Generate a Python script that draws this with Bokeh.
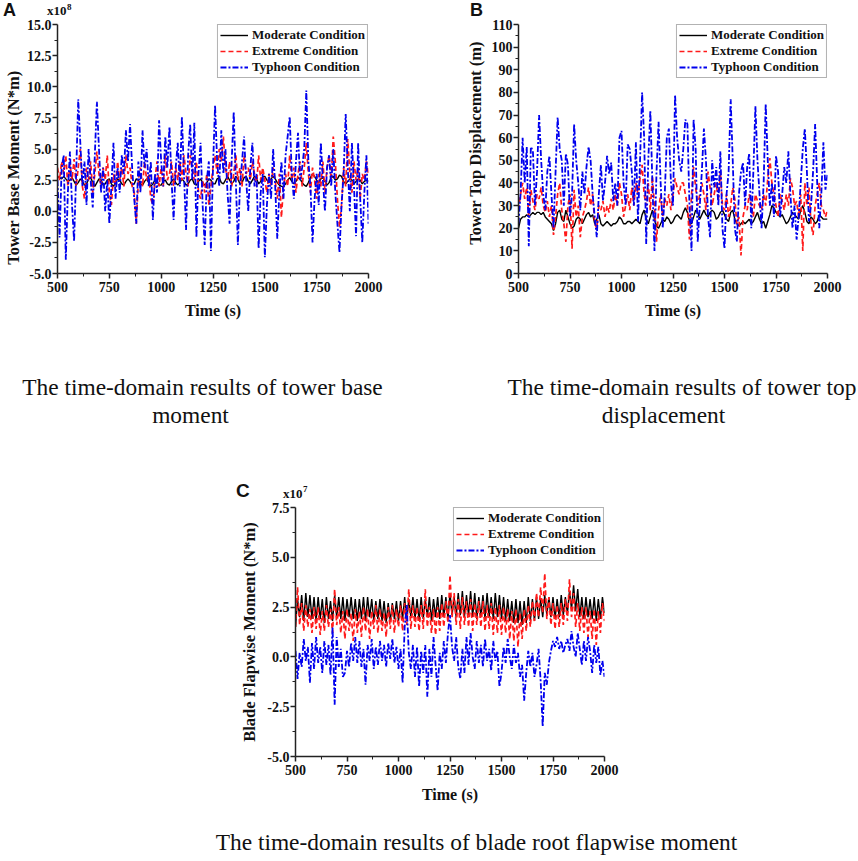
from bokeh.plotting import figure
from bokeh.models import Range1d, FixedTicker, PrintfTickFormatter, Label, Legend, LegendItem, Spacer, Div
from bokeh.layouts import row, column
from bokeh.embed import file_html
from bokeh.resources import INLINE

# ---------------- data ----------------
time_s = list(range(500, 2001, 10))
x_ticks = [500, 750, 1000, 1250, 1500, 1750, 2000]
series_names = ["Moderate Condition", "Extreme Condition", "Typhoon Condition"]

# Panel A: tower base moment (x1e8 N*m)
moderate_a = [2.8, 2.7, 2.6, 2.8, 2.6, 2.4, 2.5, 2.7, 2.4, 2.1,
              2.3, 2.6, 2.4, 2.1, 2.2, 2.6, 2.7, 2.3, 2.0, 2.3,
              2.6, 2.5, 2.1, 2.2, 2.5, 2.6, 2.2, 2.0, 2.3, 2.6,
              2.5, 2.2, 2.1, 2.4, 2.6, 2.4, 2.1, 2.2, 2.6, 2.5,
              2.2, 2.1, 2.4, 2.6, 2.3, 2.0, 2.2, 2.5, 2.4, 2.1,
              2.1, 2.4, 2.5, 2.2, 2.1, 2.4, 2.6, 2.3, 2.1, 2.3,
              2.6, 2.4, 2.1, 2.2, 2.5, 2.6, 2.2, 2.1, 2.4, 2.6,
              2.3, 2.1, 2.3, 2.6, 2.5, 2.2, 2.2, 2.6, 2.7, 2.3,
              2.2, 2.5, 2.8, 2.5, 2.2, 2.4, 2.8, 2.6, 2.2, 2.3,
              2.7, 2.8, 2.4, 2.2, 2.5, 2.8, 2.6, 2.2, 2.4, 2.8,
              2.8, 2.5, 2.3, 2.6, 2.8, 2.6, 2.3, 2.1, 2.0, 2.0,
              2.2, 2.5, 2.7, 2.4, 2.2, 2.4, 2.7, 2.6, 2.3, 2.1,
              2.0, 2.3, 2.7, 3.0, 2.8, 2.5, 2.3, 2.6, 2.7, 2.4,
              2.1, 2.3, 2.7, 2.8, 2.5, 2.6, 2.9, 2.8, 2.4, 2.2,
              2.4, 2.6, 2.5, 2.2, 2.4, 2.6, 2.5, 2.2, 2.4, 2.5,
              2.4]
extreme_a = [3.5, 2.5, 4.0, 3.0, 4.5, 2.0, 3.8, 2.5, 4.2, 2.0,
             3.5, 5.0, 2.0, 1.0, 3.5, 2.5, 4.0, 1.5, 3.0, 4.8,
             3.0, 2.0, 3.5, 2.5, 4.5, 1.5, 0.5, 3.0, 2.0, 4.0,
             2.5, 3.5, 2.0, 4.5, 3.0, 3.5, 2.0, 1.5, -1.0, 2.5,
             3.5, 2.0, 4.0, 2.5, 3.0, 1.0, 0.5, 2.5, 4.0, 2.0,
             3.5, 2.0, 4.5, 2.5, 3.0, 4.0, 2.0, 3.5, 2.5, 4.0,
             2.5, 4.5, 3.0, 2.0, 4.5, 3.5, 2.5, 4.0, 1.5, 1.0,
             2.5, 1.5, 3.0, 0.5, 2.0, 3.5, 4.5, 3.0, 5.0, 4.0,
             6.0, 3.5, 2.5, 4.0, 2.0, 3.0, 4.5, 2.5, 3.5, 2.0,
             4.5, 3.0, 3.5, 2.5, 4.0, 3.0, 2.0, 4.5, 2.5, 3.5,
             2.5, 1.5, 3.0, 2.0, 3.5, 2.5, 1.0, 3.0, -0.5, 2.0,
             3.0, 2.0, 4.5, 2.5, 3.5, 1.5, 3.0, 4.0, 2.0, 3.5,
             5.5, 3.0, 1.5, 3.5, 2.5, 1.0, 3.0, 2.0, 4.0, 1.5,
             3.5, 4.5, 2.5, 6.0, 4.0, 1.0, -1.3, 0.5, 3.5, 2.0,
             5.8, 3.0, 1.5, 4.0, 2.5, 3.5, 1.0, 3.0, 2.5, 4.0,
             3.0]
typhoon_a = [2.5, -2.1, 3.5, 4.5, -3.9, 1.5, 4.8, 0.5, -2.4, 3.0,
             9.0, 5.5, 2.0, 4.0, 0.5, 5.0, 2.5, 0.3, 4.5, 8.8,
             5.0, 1.5, 3.5, 0.0, 2.5, -1.0, 2.0, 5.5, 1.0, 3.5,
             1.5, 4.5, 3.0, 6.5, 4.0, 7.0, 3.5, 1.0, -1.0, 4.0,
             1.5, 6.5, 3.5, 5.0, 2.0, 4.0, -0.7, 3.0, 1.5, 7.3,
             4.0, 2.0, 6.0, 3.5, 6.8, 2.5, -0.7, 3.5, 5.5, 2.0,
             7.6, 3.0, -1.5, 4.5, 7.0, 2.5, 7.1, -2.1, 3.0, 5.5,
             0.5, -2.7, 2.5, 4.0, -3.2, 3.5, 8.5, 4.0, 2.0, 6.5,
             3.0, 5.0, 1.5, -1.0, 4.0, 8.0, 2.5, -2.7, 2.0, 4.0,
             6.0, 2.5, 0.0, 3.5, 5.5, 2.0, 3.0, -3.0, 1.5, 3.0,
             -3.7, 0.5, 3.0, 1.0, 5.0, 2.0, -2.2, 1.5, 4.0, 1.0,
             4.5, 6.0, 7.6, 3.0, 1.0, 4.0, 6.3, 2.5, 3.5, 5.0,
             9.7, 4.0, 2.0, -2.5, 1.0, 3.0, 0.5, 5.5, 2.5, 0.0,
             3.5, 4.5, 2.0, 5.0, 1.5, -1.0, -3.3, 0.5, 3.0, 7.8,
             3.5, 0.0, 5.5, 2.0, -2.0, 5.5, 1.0, -2.5, 1.5, 4.5,
             -1.0]

# Panel B: tower top displacement (m)
moderate_b = [20, 24, 25, 25, 26, 25, 26, 27, 26, 27,
              27, 26, 27, 25, 24, 23, 22, 19, 22, 27,
              28, 24, 23, 28, 25, 22, 20, 21, 24, 25,
              24, 22, 24, 26, 27, 25, 26, 22, 24, 26,
              22, 21, 22, 23, 22, 21, 22, 22, 23, 25,
              24, 22, 22, 23, 23, 22, 23, 24, 23, 22,
              26, 28, 24, 22, 25, 28, 24, 21, 20, 22,
              24, 23, 25, 24, 22, 23, 25, 26, 25, 24,
              27, 29, 27, 23, 22, 25, 28, 27, 24, 26,
              28, 26, 25, 27, 28, 27, 24, 25, 27, 28,
              26, 24, 23, 27, 28, 24, 22, 21, 22, 23,
              22, 23, 24, 22, 23, 25, 27, 24, 22, 23,
              20, 23, 26, 30, 29, 27, 26, 25, 26, 24,
              22, 23, 25, 27, 26, 25, 24, 28, 30, 27,
              23, 22, 25, 24, 22, 23, 26, 25, 24, 24,
              24]
extreme_b = [28, 35, 40, 33, 38, 25, 37, 32, 28, 35,
             33, 38, 30, 27, 32, 25, 30, 17, 25, 35,
             40, 28, 22, 14, 30, 35, 11, 37, 25, 30,
             16, 25, 28, 32, 38, 30, 35, 22, 20, 30,
             28, 32, 25, 30, 27, 33, 28, 35, 30, 40,
             35, 25, 30, 35, 28, 38, 30, 40, 35, 42,
             48, 35, 30, 40, 28, 43, 30, 14, 28, 35,
             25, 33, 30, 35, 28, 35, 42, 38, 35, 40,
             40, 35, 30, 15, 35, 47, 38, 30, 35, 40,
             35, 28, 45, 38, 30, 35, 40, 32, 45, 30,
             28, 35, 25, 30, 38, 33, 22, 25, 8, 25,
             30, 28, 35, 30, 25, 35, 32, 30, 28, 35,
             30, 42, 51, 40, 35, 30, 25, 35, 32, 28,
             35, 30, 42, 38, 30, 32, 25, 35, 10, 40,
             30, 38, 22, 17, 30, 35, 40, 30, 28, 25,
             28]
typhoon_b = [22, 35, 60, 40, 56, 12, 56, 54, 30, 45,
             70, 50, 35, 28, 45, 52, 35, 20, 45, 69,
             55, 50, 30, 53, 48, 25, 35, 66, 50, 40,
             28, 45, 35, 47, 56, 50, 35, 25, 16, 35,
             48, 32, 40, 52, 44, 49, 32, 40, 30, 60,
             63, 40, 30, 57, 55, 45, 30, 58, 23, 50,
             80, 60, 13, 50, 72, 40, 10, 45, 67, 40,
             20, 35, 60, 64, 40, 30, 79, 60, 50, 45,
             55, 68, 66, 30, 10, 68, 55, 14, 30, 45,
             64, 50, 25, 16, 50, 38, 47, 30, 54, 20,
             11, 35, 45, 77, 50, 20, 14, 35, 45, 49,
             30, 47, 53, 20, 45, 74, 50, 35, 20, 40,
             75, 50, 30, 40, 25, 52, 45, 25, 35, 47,
             40, 54, 35, 20, 30, 15, 25, 40, 55, 64,
             45, 23, 30, 45, 66, 40, 20, 35, 58, 37,
             44]

# Panel C: blade root flapwise moment (x1e7 N*m)
moderate_c = [1.5, 2.9, 2.0, 3.1, 1.8, 3.2, 2.0, 3.1, 1.9, 3.0,
              1.8, 3.0, 1.9, 2.9, 1.7, 3.0, 1.9, 2.8, 1.8, 3.1,
              2.0, 3.0, 1.9, 3.0, 1.8, 2.9, 2.0, 3.0, 1.9, 2.9,
              1.8, 2.9, 1.9, 3.0, 1.8, 3.0, 2.0, 2.9, 1.8, 2.8,
              1.9, 2.9, 1.8, 2.8, 1.7, 2.7, 1.8, 2.7, 1.9, 2.8,
              1.8, 2.8, 1.9, 3.0, 1.8, 2.9, 2.0, 3.0, 1.9, 2.9,
              1.8, 3.0, 1.9, 2.9, 2.0, 3.0, 1.8, 2.9, 2.0, 3.0,
              1.9, 3.1, 2.0, 3.0, 1.9, 3.2, 2.1, 3.0, 2.0, 3.2,
              2.1, 3.3, 2.0, 3.1, 2.1, 3.3, 2.0, 3.2, 1.9, 3.0,
              2.0, 3.1, 1.9, 3.2, 2.0, 3.0, 1.9, 3.2, 2.0, 3.1,
              1.9, 3.0, 1.8, 2.9, 1.8, 2.8, 1.7, 2.9, 1.7, 2.8,
              1.6, 2.8, 1.7, 3.0, 1.8, 2.9, 1.8, 3.0, 1.9, 2.9,
              2.0, 3.1, 2.1, 3.0, 2.0, 3.0, 1.9, 2.9, 2.0, 3.1,
              2.1, 3.0, 2.2, 3.3, 2.4, 3.6, 2.3, 3.4, 2.0, 3.0,
              1.9, 3.0, 2.0, 2.9, 1.9, 3.0, 1.8, 2.9, 1.9, 3.0,
              2.2]
extreme_c = [1.5, 3.5, 1.6, 2.7, 1.3, 2.6, 1.5, 2.4, 1.2, 2.5,
             1.4, 2.5, 1.1, 2.3, 1.3, 2.6, 1.5, 2.4, 1.2, 3.4,
             1.6, 2.5, 1.2, 2.3, 0.9, 2.4, 1.3, 2.2, 0.8, 2.4,
             1.2, 2.3, 1.0, 2.5, 1.3, 2.4, 0.9, 2.3, 1.4, 2.6,
             1.2, 2.4, 1.3, 2.2, 1.0, 2.5, 1.4, 2.6, 1.2, 2.4,
             1.5, 2.6, 1.3, 2.7, 1.6, 3.4, 1.4, 2.6, 1.5, 2.5,
             1.3, 2.6, 1.4, 3.4, 1.5, 2.5, 1.2, 2.4, 1.1, 2.5,
             1.3, 2.7, 1.5, 2.8, 1.7, 4.1, 2.0, 3.2, 1.6, 2.9,
             1.4, 3.0, 1.6, 2.8, 1.5, 2.9, 1.3, 2.7, 1.6, 2.8,
             1.5, 2.8, 1.3, 2.6, 1.4, 2.7, 1.1, 2.5, 1.2, 2.6,
             1.1, 2.5, 1.2, 2.4, 0.9, 2.3, 0.8, 2.4, 0.5, 2.2,
             0.9, 2.4, 1.3, 2.6, 1.5, 2.8, 1.8, 3.2, 2.0, 3.5,
             2.2, 4.2, 1.9, 3.0, 1.6, 2.7, 1.4, 2.6, 1.5, 2.7,
             1.6, 2.9, 1.8, 3.9, 2.0, 3.2, 1.5, 2.7, 1.3, 2.5,
             1.2, 2.5, 1.0, 2.3, 0.9, 2.4, 0.6, 2.3, 1.2, 2.7,
             1.8]
typhoon_c = [0.3, -1.1, 0.2, -0.5, 0.9, -0.2, 0.5, -1.3, 0.7, -0.6,
             1.0, -0.3, 0.5, -0.8, 0.8, -0.4, 0.6, -0.9, 1.5, -2.4,
             1.0, -0.5, 0.4, -1.0, -0.8, 0.3, -0.5, 0.7, -0.2, 1.0,
             -0.3, 0.8, -0.5, 0.4, -1.4, 0.6, -0.2, 0.9, -0.6, 0.5,
             -0.4, 0.8, -0.2, 0.6, -0.5, 0.7, -0.1, 0.9, -0.3, 0.5,
             -0.6, 0.4, -1.3, 1.5, 2.6, 0.2, -0.6, 0.6, -1.0, 0.5,
             -1.5, 0.3, -0.8, 0.6, -2.0, 0.4, -1.0, 1.0, -0.4, -1.7,
             0.2, -0.6, 0.8, -0.3, 1.2, 2.1, 0.5, -0.2, 1.0, -0.5,
             -1.1, 0.4, -0.8, 1.0, -0.4, 1.2, 0.0, -0.6, 0.8, -0.3,
             0.6, -0.5, 0.9, -0.2, 0.4, -0.7, 0.8, -0.2, 0.3, -1.5,
             -0.8, 0.5, -0.3, 0.9, 0.0, -0.6, 0.6, -0.3, 0.2, -1.0,
             -0.4, -2.2, -0.8, 0.3, -0.5, 0.2, -1.0, -0.4, 0.4, -1.2,
             -3.5, -0.8, -1.4, -0.3, 0.3, 0.8, 0.5, 1.0, 0.4, 0.8,
             0.2, 0.6, 0.9, 0.3, 1.3, 0.5, 0.0, 1.2, 0.4, -0.4,
             0.8, -0.2, 1.0, 0.3, -0.8, 0.6, -0.3, 0.5, -0.9, -0.2,
             -1.0]

# ---------------- styling ----------------
SERIF = "Liberation Serif"
SANS = "Liberation Sans"
INK = "#111111"
COLORS = ["#000000", "#ff1a1a", "#0000ee"]
DASHES = ["solid", "5 3", "6 2 2 2"]
WIDTHS = [1.4, 1.7, 1.8]
EM = "\u2003"
NB = "\u00a0"
METRICS = {SANS: (0.905, 0.212), SERIF: (0.891, 0.216)}
LINE_H = 0.8


def add_text(f, x, y, text, size, font=SERIF, style="bold", align="center",
             base="middle", angle=0.0):
    f.add_layout(Label(x=x, y=y, text=text, text_font=font, text_font_style=style,
                       text_font_size=size, text_align=align, text_baseline=base,
                       angle=angle, text_color=INK))


def text_fig(w, h):
    f = figure(width=w, height=h, x_range=Range1d(0, w), y_range=Range1d(h, 0),
               min_border=0, x_axis_type=None, y_axis_type=None,
               output_backend="svg", toolbar_location=None, tools="")
    f.outline_line_color = None
    f.title.visible = False
    f.background_fill_color = "white"
    f.border_fill_color = "white"
    return f


def header_div(w, h, items):
    # items: (left px, baseline px, text, family, size px, weight)
    spans = []
    for left, baseline, text, fam, size, weight in items:
        asc, desc = METRICS[fam]
        top = baseline - ((LINE_H - (asc + desc)) / 2 + asc) * size
        spans.append(
            f'<span style="position:absolute;left:{left}px;top:{top:.2f}px;'
            f'font-family:\'{fam}\';font-size:{size}px;font-weight:{weight};'
            f'line-height:{LINE_H};white-space:nowrap;color:{INK};">{text}</span>')
    html = (f'<div style="position:relative;width:{w}px;height:{h}px;margin:0;padding:0;">'
            + "".join(spans) + "</div>")
    return Div(text=html, width=w, height=h, margin=0)


def plot_fig(frame_w, borders, y_lo, y_hi, y_ticks, y_fmt, data, ylabel,
             ylabel_standoff, xlabel_standoff=7):
    left, right, top, bottom = borders
    p = figure(frame_width=frame_w, frame_height=249,
               min_border_left=left, min_border_right=right,
               min_border_top=top, min_border_bottom=bottom,
               x_range=Range1d(500, 2000), y_range=Range1d(y_lo, y_hi),
               output_backend="svg", toolbar_location=None, tools="")
    p.grid.visible = False
    p.outline_line_color = None
    p.background_fill_color = "white"
    p.title.visible = False

    minor_x = [(a + b) / 2 for a, b in zip(x_ticks[:-1], x_ticks[1:])]
    minor_y = [(a + b) / 2 for a, b in zip(y_ticks[:-1], y_ticks[1:])]
    p.xaxis.ticker = FixedTicker(ticks=x_ticks, minor_ticks=minor_x)
    p.yaxis.ticker = FixedTicker(ticks=y_ticks, minor_ticks=minor_y)
    p.yaxis.formatter = PrintfTickFormatter(format=y_fmt)
    p.xaxis.formatter = PrintfTickFormatter(format="%d")
    for ax in (p.xaxis, p.yaxis):
        ax.axis_line_width = 1.5
        ax.axis_line_color = "#222222"
        ax.major_tick_line_width = 1.5
        ax.major_tick_line_color = "#222222"
        ax.minor_tick_line_color = "#222222"
        ax.minor_tick_line_width = 1
        ax.major_tick_out = 5
        ax.major_tick_in = 0
        ax.minor_tick_out = 3
        ax.minor_tick_in = 0
        ax.major_label_text_font = SERIF
        ax.major_label_text_font_style = "bold"
        ax.major_label_text_font_size = "14px"
        ax.major_label_text_color = INK
        ax.axis_label_text_font = SERIF
        ax.axis_label_text_font_style = "bold"
        ax.axis_label_text_color = INK
    p.xaxis.major_label_standoff = 3
    p.yaxis.major_label_standoff = 1
    p.xaxis.axis_label = "Time (s)"
    p.xaxis.axis_label_text_font_size = "16px"
    p.xaxis.axis_label_standoff = xlabel_standoff
    p.yaxis.axis_label = ylabel
    p.yaxis.axis_label_text_font_size = "16.5px"
    p.yaxis.axis_label_standoff = ylabel_standoff

    renderers = []
    for vals, c, d, w in zip(data, COLORS, DASHES, WIDTHS):
        renderers.append(p.line(time_s, vals, line_color=c, line_dash=d, line_width=w))

    legend = Legend(items=[LegendItem(label=n, renderers=[r]) for n, r in zip(series_names, renderers)],
                    location="top_right", margin=0, padding=2, spacing=0,
                    glyph_height=16, glyph_width=28, label_height=16, label_standoff=4,
                    label_text_font=SERIF, label_text_font_style="bold",
                    label_text_font_size="13px", label_text_color=INK,
                    border_line_color="#666666", border_line_width=1,
                    background_fill_color="white", background_fill_alpha=1)
    p.add_layout(legend)
    return p


# ---- header above A and B (page y 0..16) ----
headAB = header_div(858, 16, [
    (3, 16.4, "A", SANS, 18, "bold"),
    (470, 16.4, "B", SANS, 18, "bold"),
    (47, 16, "x10", SERIF, 13, "bold"),
    (67, 10.5, "8", SERIF, 9, "bold"),
])

# ---- panels A and B (page y 16..328) ----
pA = plot_fig(311, (55, 63, 8, 55), -5, 15,
              [-5, -2.5, 0, 2.5, 5, 7.5, 10, 12.5, 15], "%.1f",
              [moderate_a, extreme_a, typhoon_a],
              "Tower Base Moment (N*m)" + EM + EM + NB, 1)
pB = plot_fig(309, (87, 33, 8, 55), 0, 110, list(range(0, 111, 10)), "%d",
              [moderate_b, extreme_b, typhoon_b],
              NB + NB + NB + "Tower Top Displacement (m)", 4)

# ---- captions for A and B (page y 328..480) ----
capAB = text_fig(858, 152)
add_text(capAB, 202, 58, "The time-domain results of tower base", "23.4px", style="normal")
add_text(capAB, 190, 86, "moment", "23.4px", style="normal")
add_text(capAB, 507, 58, "The time-domain results of tower top", "23.4px", style="normal", align="left")
add_text(capAB, 663, 86, "displacement", "23.4px", style="normal")

# ---- header above C (page y 480..499) ----
headC = header_div(858, 19, [
    (236, 17.5, "C", SANS, 19, "bold"),
    (283, 19, "x10", SERIF, 13, "bold"),
    (303, 13, "7", SERIF, 9, "bold"),
])

# ---- panel C (page y 499..808) ----
pC = plot_fig(309, (95, 20, 8, 52), -5, 7.5, [-5, -2.5, 0, 2.5, 5, 7.5], "%.1f",
              [moderate_c, extreme_c, typhoon_c],
              "Blade Flapwise Moment (N*m)", 5, xlabel_standoff=8)

# ---- caption for C (page y 808..860) ----
capC = text_fig(858, 52)
add_text(capC, 476, 33, "The time-domain results of blade root flapwise moment", "23.4px", style="normal")

layout = column(headAB,
                row(pA, pB),
                capAB,
                headC,
                row(Spacer(width=200, height=309), pC),
                capC)

open("out.html", "w").write(file_html(layout, INLINE))
